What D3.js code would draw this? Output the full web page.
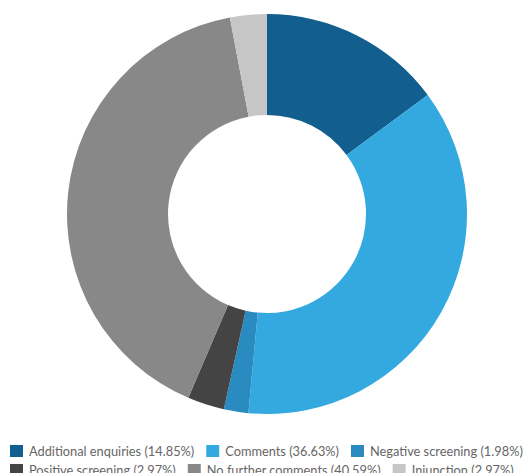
<!DOCTYPE html>
<html lang="en">
<head>
    <meta charset="UTF-8">
    <script src="https://d3js.org/d3.v7.min.js"></script>
    <style>
        body { margin: 0; background: #fff; }
    </style>
</head>
<body>
<div id="chart"></div>
<script>
    // Outcome categories and their shares (%)
    var categories = ["Additional enquiries", "Comments", "Negative screening", "Positive screening", "No further comments", "Injunction"];
    var values = [14.85, 36.63, 1.98, 2.97, 40.59, 2.97];
    var colors = ["#115e8f", "#33a9e0", "#2a8bc1", "#444444", "#888888", "#c6c6c6"];

    var width = 527, height = 473;
    var cx = 267, cy = 214, outer = 200, inner = 99;

    var data = categories.map(function(c, i) { return {name: c, value: values[i], color: colors[i]}; });

    var svg = d3.select("#chart")
        .append("svg")
            .attr("width", width)
            .attr("height", height);

    var pie = d3.pie().sort(null).value(function(d) { return d.value; });
    var arc = d3.arc().innerRadius(inner).outerRadius(outer);

    svg.append("g")
        .attr("transform", "translate(" + cx + "," + cy + ")")
        .selectAll("path")
        .data(pie(data))
        .enter().append("path")
            .attr("d", arc)
            .attr("fill", function(d) { return d.data.color; });

    // legend: three items per row, left to right
    var legend = svg.append("g").attr("font-family", "Lato, sans-serif").attr("font-size", 12.8);
    var perRow = 3, rowH = 19, legendTop = 445, lx = 10;
    data.forEach(function(d, i) {
        if (i % perRow === 0) lx = 10;
        var row = Math.floor(i / perRow);
        var g = legend.append("g");
        g.append("rect").attr("width", 13).attr("height", 12).attr("fill", d.color);
        var t = g.append("text")
            .attr("x", 19).attr("y", 11)
            .attr("fill", "#666")
            .text(d.name + " (" + d.value.toFixed(2) + "%)");
        var w = 19 + t.node().getComputedTextLength();
        g.attr("transform", "translate(" + lx + "," + (legendTop + row * rowH) + ")");
        lx += w + 12;
    });
</script>
</body>
</html>
